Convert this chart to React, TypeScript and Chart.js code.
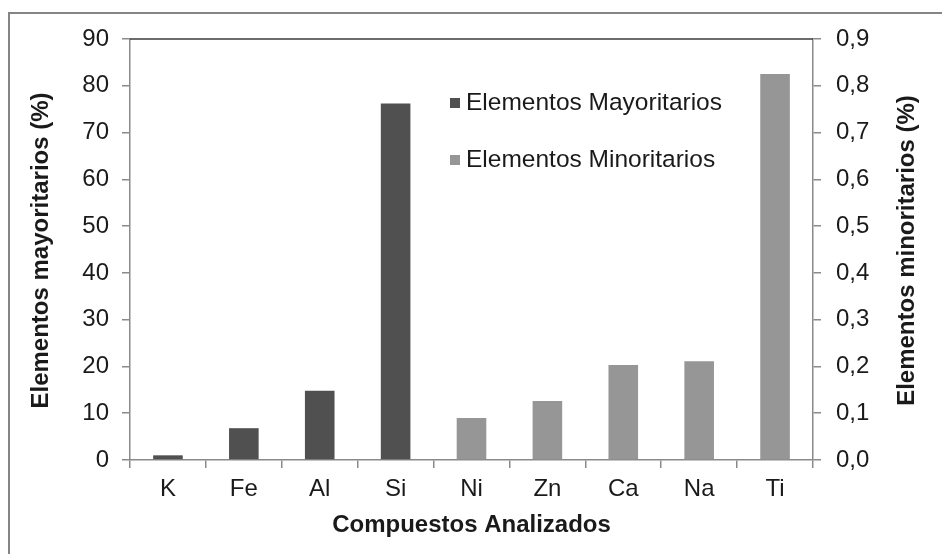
import React, { useEffect, useRef } from 'react';
import { Chart, registerables } from 'chart.js';

Chart.register(...registerables);

const categories = ['K', 'Fe', 'Al', 'Si', 'Ni', 'Zn', 'Ca', 'Na', 'Ti'];
const mayoritarios: (number | null)[] = [1.0, 6.8, 14.8, 76.2, null, null, null, null, null];
const minoritarios: (number | null)[] = [null, null, null, null, 0.09, 0.126, 0.203, 0.211, 0.825];
const seriesNames = ['Elementos Mayoritarios', 'Elementos Minoritarios'];
const leftAxis = { min: 0, max: 90, step: 10 };
const rightAxis = { min: 0, max: 0.9, step: 0.1 };
const xTitle = 'Compuestos Analizados';
const yLeftTitle = 'Elementos mayoritarios (%)';
const yRightTitle = 'Elementos minoritarios (%)';

const DARK = '#505050';
const LIGHT = '#969696';
const FONT = '"Liberation Sans", Arial, sans-serif';
const TEXT = '#1a1a1a';
const AXIS = '#8a8a8a';

export default function App() {
  const ref = useRef<HTMLCanvasElement | null>(null);

  useEffect(() => {
    if (!ref.current) return;
    const decor = {
      id: 'decor',
      afterDraw(chart: any) {
        const { ctx, chartArea } = chart;
        const { left, right, top, bottom } = chartArea;
        ctx.save();
        ctx.strokeStyle = '#3c3c3c';
        ctx.lineWidth = 1.5;
        ctx.beginPath();
        ctx.moveTo(left, top);
        ctx.lineTo(right, top);
        ctx.stroke();

        ctx.font = `bold 24px ${FONT}`;
        ctx.fillStyle = TEXT;
        ctx.textAlign = 'center';
        ctx.textBaseline = 'middle';
        const cy = (top + bottom) / 2 + 1;
        ctx.save();
        ctx.translate(41, cy);
        ctx.rotate(-Math.PI / 2);
        ctx.fillText(yLeftTitle, 0, 0);
        ctx.restore();
        ctx.save();
        ctx.translate(907, cy);
        ctx.rotate(-Math.PI / 2);
        ctx.fillText(yRightTitle, 0, 0);
        ctx.restore();

        // legend
        const colors = [DARK, LIGHT];
        const lx = left + 320;
        const ys = [top + 64, top + 121];
        ctx.font = `24.5px ${FONT}`;
        ctx.textAlign = 'left';
        seriesNames.forEach((name, i) => {
          ctx.fillStyle = colors[i];
          ctx.fillRect(lx, ys[i] - 5, 10, 10);
          ctx.fillStyle = TEXT;
          ctx.fillText(name, lx + 16, ys[i]);
        });
        ctx.restore();
      },
    };

    const chart = new Chart(ref.current, {
      type: 'bar',
      data: {
        labels: categories,
        datasets: [
          {
            label: seriesNames[0],
            data: mayoritarios,
            backgroundColor: DARK,
            yAxisID: 'y',
            grouped: false,
            barPercentage: 0.39,
            categoryPercentage: 1,
          } as any,
          {
            label: seriesNames[1],
            data: minoritarios,
            backgroundColor: LIGHT,
            yAxisID: 'y1',
            grouped: false,
            barPercentage: 0.39,
            categoryPercentage: 1,
          } as any,
        ],
      },
      options: {
        responsive: false,
        animation: false,
        devicePixelRatio: 1,
        layout: { padding: { top: 39, left: 0, right: 0, bottom: 0 } },
        plugins: { legend: { display: false }, tooltip: { enabled: false } },
        scales: {
          x: {
            type: 'category',
            offset: true,
            border: { color: AXIS, width: 1.5 },
            grid: { drawOnChartArea: false, tickLength: 8, color: AXIS, lineWidth: 1.5, offset: true },
            ticks: { font: { family: FONT, size: 24 }, color: TEXT, padding: 7, maxRotation: 0 },
            title: {
              display: true,
              text: xTitle,
              font: { family: FONT, size: 24, weight: 'bold' },
              color: TEXT,
              padding: { top: 0, bottom: 14 },
            },
            afterFit(scale: any) {
              scale.height = 94;
            },
          },
          y: {
            position: 'left',
            min: leftAxis.min,
            max: leftAxis.max,
            border: { color: AXIS, width: 1.5 },
            grid: { drawOnChartArea: false, tickLength: 8, color: AXIS, lineWidth: 1.5 },
            ticks: { stepSize: leftAxis.step, font: { family: FONT, size: 24 }, color: TEXT, padding: 13 },
            afterFit(scale: any) {
              scale.width = 130;
            },
          },
          y1: {
            position: 'right',
            min: rightAxis.min,
            max: rightAxis.max,
            border: { color: AXIS, width: 1.5 },
            grid: { drawOnChartArea: false, tickLength: 8, color: AXIS, lineWidth: 1.5 },
            ticks: {
              stepSize: rightAxis.step,
              font: { family: FONT, size: 24 },
              color: TEXT,
              padding: 15,
              callback: (v: any) => Number(v).toFixed(1).replace('.', ','),
            },
            afterFit(scale: any) {
              scale.width = 129;
            },
          },
        },
      } as any,
      plugins: [decor],
    });
    return () => chart.destroy();
  }, []);

  return (
    <div>
      <div
        style={{
          position: 'fixed',
          left: 8,
          top: 12,
          width: 1200,
          height: 1200,
          borderTop: '2px solid #858585',
          borderLeft: '2px solid #858585',
          boxSizing: 'border-box',
        }}
      />
      <canvas
        ref={ref}
        width={942}
        height={554}
        style={{ position: 'fixed', left: 0, top: 0, width: 942, height: 554 }}
      />
    </div>
  );
}
